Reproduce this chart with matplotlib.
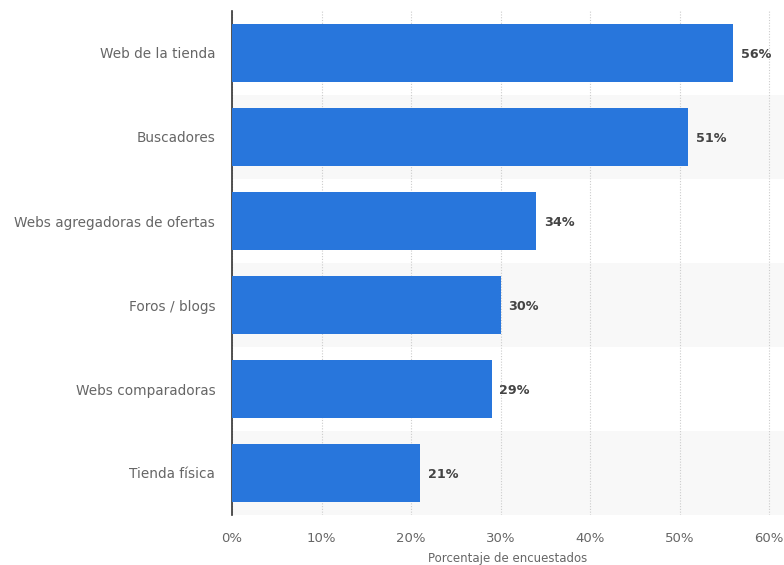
import numpy as np
import matplotlib.pyplot as plt

categories = ['Web de la tienda', 'Buscadores', 'Webs agregadoras de ofertas',
              'Foros / blogs', 'Webs comparadoras', 'Tienda física']
values = [56, 51, 34, 30, 29, 21]
xticks = [0, 10, 20, 30, 40, 50, 60]

fig = plt.figure(figsize=(7.84, 5.65), dpi=100)
ax = fig.add_axes([232/784, 1 - 515/565, 1 - 232/784, 504/565])

y = np.arange(len(categories))

# alternating background bands
for i in y:
    if i % 2 == 1:
        ax.axhspan(i - 0.5, i + 0.5, color='#f8f8f8', zorder=0, lw=0)

ax.barh(y, values, height=0.69, color='#2876dc', zorder=3)

for yi, v in zip(y, values):
    ax.text(v + 0.85, yi + 0.02, f'{v}%', va='center', ha='left', fontsize=9.2,
            fontweight='bold', color='#444444', zorder=4)

ax.set_xlim(0, (784 - 232) / 8.95)
ax.set_ylim(len(categories) - 0.5, -0.5)
ax.set_xticks(xticks)
ax.set_xticklabels([f'{t}%' for t in xticks])
ax.set_yticks(y)
ax.set_yticklabels(categories)

ax.xaxis.grid(True, linestyle=(0, (1, 1.5)), color='#cccccc', linewidth=0.8, zorder=1)
ax.set_axisbelow(True)

for s in ['top', 'right', 'bottom']:
    ax.spines[s].set_visible(False)
ax.spines['left'].set_color('#333333')
ax.spines['left'].set_linewidth(1.2)

ax.tick_params(axis='both', length=0, labelcolor='#666666')
ax.tick_params(axis='y', pad=12, labelsize=9.8)
ax.tick_params(axis='x', pad=12, labelsize=9.5)

ax.set_xlabel('Porcentaje de encuestados', fontsize=8.5, color='#666666', labelpad=5)

fig.savefig('out.png', dpi=100)
